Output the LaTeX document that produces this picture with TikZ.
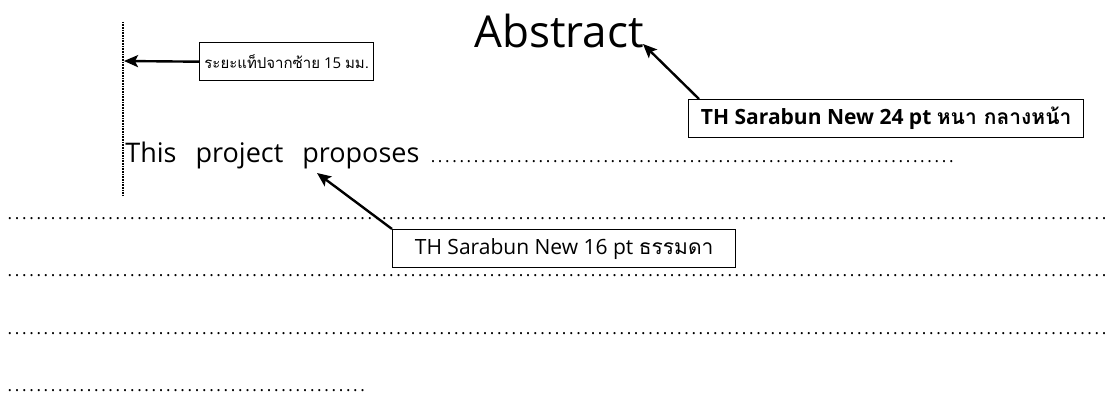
\documentclass[tikz,border=0pt]{standalone}
\usepackage{fontspec}
\setmainfont{Open Sans}
\newfontfamily\thaifont[Script=Thai]{Loma}
\usetikzlibrary{arrows.meta}
\newcommand{\dotrow}[1]{\hbox to #1{\fontsize{17}{17}\selectfont\leaders\hbox to 7.2pt{\hss.\hss}\hfill}}
\begin{document}
\begin{tikzpicture}[x=1pt,y=-1pt,thick,
  arr/.style={-{Stealth[length=14pt,width=12pt,inset=3pt]},line width=2.4pt},
  notebox/.style={draw,line width=1.4pt,minimum height=38pt,inner sep=0pt,font=\fontsize{21}{21}\selectfont}]

  \useasboundingbox (0,0) rectangle (1110,398);

  %margin line
  \coordinate (M1) at (123,22);
  \coordinate (M2) at (123,195);
  \draw [dash pattern=on 1pt off 0.6pt,line width=1.2pt] (M1) -- (M2);

  %title and body text
  \node (T) at (559,48)[anchor=base,inner sep=0pt,font=\fontsize{44}{44}\selectfont]{Abstract};
  \node (P) at (125,163)[anchor=base west,inner sep=0pt,font=\fontsize{27}{27}\selectfont]{\spaceskip=19pt This project proposes\hspace{10pt}\dotrow{530pt}};

  %dotted rows
  \node (R1) at (6,219)[anchor=base west,inner sep=0pt]{\dotrow{1104pt}};
  \node (R2) at (6,276)[anchor=base west,inner sep=0pt]{\dotrow{1104pt}};
  \node (R3) at (6,334)[anchor=base west,inner sep=0pt]{\dotrow{1104pt}};
  \node (R4) at (6,391)[anchor=base west,inner sep=0pt]{\dotrow{367pt}};

  %note boxes
  \node (B1) at (199,42)[notebox,anchor=north west,minimum width=174pt,font=\fontsize{15}{15}\selectfont]{{\thaifont ระยะแท็ปจากซ้าย} 15 {\thaifont มม.}};
  \node (B2) at (392,229)[notebox,anchor=north west,minimum width=343pt]{TH Sarabun New 16 pt {\thaifont ธรรมดา}};
  \node (B3) at (688,99)[notebox,anchor=north west,minimum width=395pt,font=\bfseries\fontsize{21}{21}\selectfont]{TH Sarabun New 24 pt {\thaifont หนา กลางหน้า}};

  %pointers
  \coordinate (A1) at (124,61);
  \coordinate (A2) at (643,44);
  \coordinate (A3) at (317,173);
  \draw [arr] (B1.west) -- (A1);
  \draw [arr] ([xshift=11pt]B3.north west) -- (A2);
  \draw [arr] (B2.north west) -- (A3);
\end{tikzpicture}
\end{document}
